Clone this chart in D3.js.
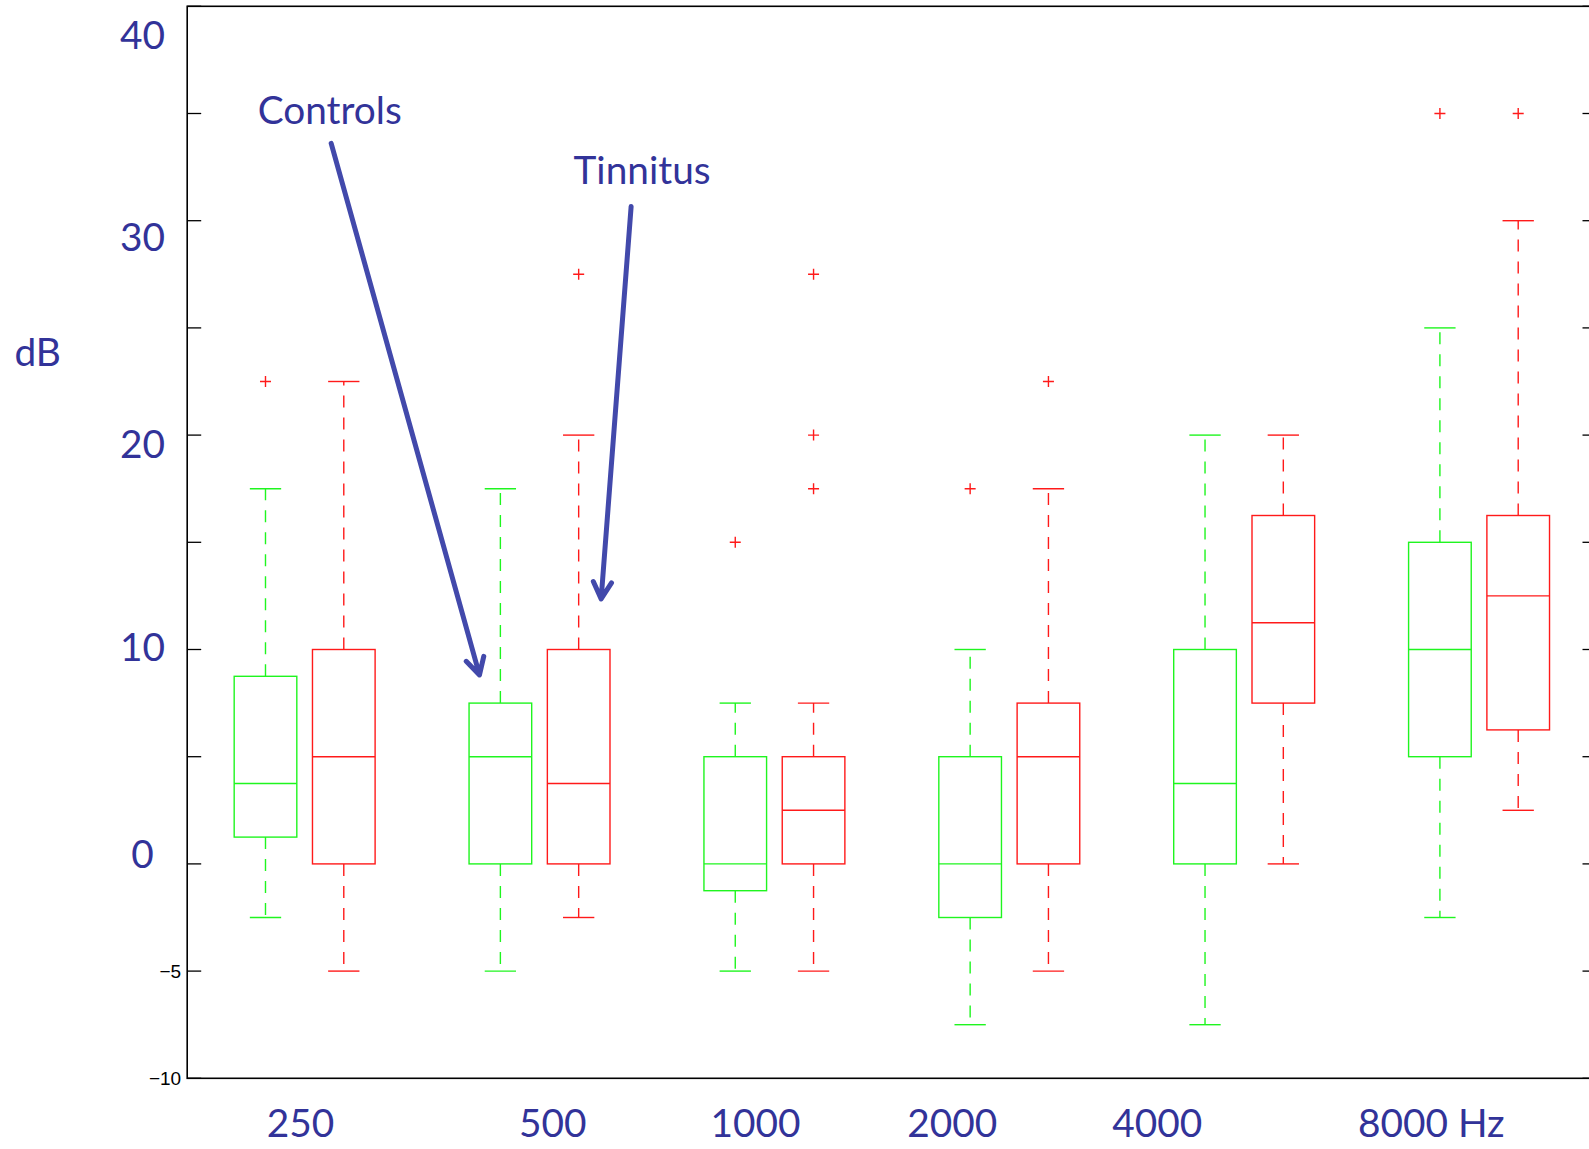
<!DOCTYPE html>
<html>
<head>
<meta charset="utf-8">
<script src="https://cdn.jsdelivr.net/npm/d3@7"></script>
<style>
body { margin: 0; background: #fff; }
.blue { fill: #323399; font-family: Lato, "Open Sans", sans-serif; font-size: 38.8px; }
.small { fill: #000; font-family: "Liberation Sans", Arial, sans-serif; font-size: 19px; }
</style>
</head>
<body>
<svg id="chart" width="1589" height="1149"></svg>
<script>
var width = 1589;
var height = 1149;

var freqs = ["250", "500", "1000", "2000", "4000", "8000 Hz"];

// per frequency: lower whisker, q1, median, q3, upper whisker (dB)
var controlsBox = [
    [-2.5, 1.25, 3.75, 8.75, 17.5],
    [-5, 0, 5, 7.5, 17.5],
    [-5, -1.25, 0, 5, 7.5],
    [-7.5, -2.5, 0, 5, 10],
    [-7.5, 0, 3.75, 10, 20],
    [-2.5, 5, 10, 15, 25]
];
var tinnitusBox = [
    [-5, 0, 5, 10, 22.5],
    [-2.5, 0, 3.75, 10, 20],
    [-5, 0, 2.5, 5, 7.5],
    [-5, 0, 5, 7.5, 17.5],
    [0, 7.5, 11.25, 16.25, 20],
    [2.5, 6.25, 12.5, 16.25, 30]
];
var controlsOutliers = [[22.5], [], [15], [17.5], [], [35]];
var tinnitusOutliers = [[], [27.5], [27.5, 20, 17.5], [22.5], [], [35]];

var yTicks = [-10, -5, 0, 5, 10, 15, 20, 25, 30, 35, 40];
var smallTickLabels = [-10, -5];
var bigTickLabels = [40, 30, 20, 10, 0];

// hand placed text, in axis units (like text(x, y, ...) calls)
var bigLabelX = -0.57;
var bigLabelY = [38.7, 29.3, 19.65, 10.15, 0.5];
var freqLabelX = [1.447, 4.67, 7.26, 9.77, 12.39, 15.89];
var freqLabelY = -12.05;
var notes = [
    {text: "Controls", x: 1.82, y: 35.2},
    {text: "Tinnitus", x: 5.81, y: 32.4},
    {text: "dB", x: -1.91, y: 23.9}
];
var arrows = [
    [[1.839, 33.61], [3.733, 8.815]],
    [[5.67, 30.66], [5.287, 12.36]]
];

var x = d3.scaleLinear().domain([0, 18]).range([187.2, 1596.5]);
var y = d3.scaleLinear().domain([-10, 40]).range([1078.3, 6.3]);

var svg = d3.select("#chart");

// boxes
var groups = [];
freqs.forEach(function(f, i) {
    groups.push({pos: 3 * i + 1, s: controlsBox[i], out: controlsOutliers[i], color: "#1ff51f"});
    groups.push({pos: 3 * i + 2, s: tinnitusBox[i], out: tinnitusOutliers[i], color: "#ff1a1a"});
});

var boxW = 0.4;
var capW = 0.2;

var g = svg.append("g").selectAll("g")
    .data(groups)
    .enter()
    .append("g")
    .style("stroke", function(d) { return d.color; })
    .style("stroke-width", 1.4)
    .style("fill", "none");

// whiskers
g.append("line")
    .attr("x1", function(d) { return x(d.pos); })
    .attr("x2", function(d) { return x(d.pos); })
    .attr("y1", function(d) { return y(d.s[3]); })
    .attr("y2", function(d) { return y(d.s[4]); })
    .style("stroke-dasharray", "12,10");
g.append("line")
    .attr("x1", function(d) { return x(d.pos); })
    .attr("x2", function(d) { return x(d.pos); })
    .attr("y1", function(d) { return y(d.s[1]); })
    .attr("y2", function(d) { return y(d.s[0]); })
    .style("stroke-dasharray", "12,10");

// caps
[0, 4].forEach(function(k) {
    g.append("line")
        .attr("x1", function(d) { return x(d.pos - capW); })
        .attr("x2", function(d) { return x(d.pos + capW); })
        .attr("y1", function(d) { return y(d.s[k]); })
        .attr("y2", function(d) { return y(d.s[k]); });
});

g.append("rect")
    .attr("x", function(d) { return x(d.pos - boxW); })
    .attr("width", function(d) { return x(d.pos + boxW) - x(d.pos - boxW); })
    .attr("y", function(d) { return y(d.s[3]); })
    .attr("height", function(d) { return y(d.s[1]) - y(d.s[3]); });

g.append("line")
    .attr("x1", function(d) { return x(d.pos - boxW); })
    .attr("x2", function(d) { return x(d.pos + boxW); })
    .attr("y1", function(d) { return y(d.s[2]); })
    .attr("y2", function(d) { return y(d.s[2]); });

// outliers, red + for every group
g.selectAll("path.out")
    .data(function(d) { return d.out.map(function(v) { return {pos: d.pos, v: v}; }); })
    .enter()
    .append("path")
    .attr("class", "out")
    .attr("d", function(d) {
        var cx = x(d.pos), cy = y(d.v);
        return "M" + (cx - 5.5) + "," + cy + "H" + (cx + 5.5) + "M" + cx + "," + (cy - 5.5) + "V" + (cy + 5.5);
    })
    .style("stroke", "#ff1a1a");

// axes box
var ax = svg.append("g").style("stroke", "#000").style("fill", "none");
ax.append("rect")
    .attr("x", x(0))
    .attr("y", y(40))
    .attr("width", x(18) - x(0))
    .attr("height", y(-10) - y(40))
    .style("stroke-width", 1.6);

ax.selectAll("line.tl")
    .data(yTicks)
    .enter()
    .append("line")
    .attr("x1", x(0))
    .attr("x2", x(0) + 14)
    .attr("y1", function(d) { return y(d); })
    .attr("y2", function(d) { return y(d); })
    .style("stroke-width", 1.3);
ax.selectAll("line.tr")
    .data(yTicks)
    .enter()
    .append("line")
    .attr("x1", x(18))
    .attr("x2", x(18) - 14)
    .attr("y1", function(d) { return y(d); })
    .attr("y2", function(d) { return y(d); })
    .style("stroke-width", 1.3);

svg.selectAll("text.small")
    .data(smallTickLabels)
    .enter()
    .append("text")
    .attr("class", "small")
    .attr("x", x(0) - 6)
    .attr("y", function(d) { return y(d); })
    .attr("text-anchor", "end")
    .attr("dominant-baseline", "central")
    .text(function(d) { return "\u2212" + Math.abs(d); });

svg.selectAll("text.big")
    .data(bigTickLabels)
    .enter()
    .append("text")
    .attr("class", "blue")
    .attr("x", x(bigLabelX))
    .attr("y", function(d, i) { return y(bigLabelY[i]); })
    .attr("text-anchor", "middle")
    .attr("dominant-baseline", "central")
    .text(function(d) { return d; });

svg.selectAll("text.freq")
    .data(freqs)
    .enter()
    .append("text")
    .attr("class", "blue")
    .attr("x", function(d, i) { return x(freqLabelX[i]); })
    .attr("y", y(freqLabelY))
    .attr("text-anchor", "middle")
    .attr("dominant-baseline", "central")
    .text(function(d) { return d; });

svg.selectAll("text.note")
    .data(notes)
    .enter()
    .append("text")
    .attr("class", "blue")
    .attr("x", function(d) { return x(d.x); })
    .attr("y", function(d) { return y(d.y); })
    .attr("text-anchor", "middle")
    .attr("dominant-baseline", "central")
    .text(function(d) { return d.text; });

// arrows with open chevron heads
var line = d3.line()
    .x(function(p) { return p[0]; })
    .y(function(p) { return p[1]; });

svg.selectAll("path.arrow")
    .data(arrows)
    .enter()
    .append("path")
    .attr("d", function(d) {
        var x0 = x(d[0][0]), y0 = y(d[0][1]);
        var x1 = x(d[1][0]), y1 = y(d[1][1]);
        var a = Math.atan2(y0 - y1, x0 - x1);
        var len = 19, sp = 0.5;
        var left = [x1 + len * Math.cos(a - sp), y1 + len * Math.sin(a - sp)];
        var right = [x1 + len * Math.cos(a + sp), y1 + len * Math.sin(a + sp)];
        return line([[x0, y0], [x1, y1]]) + line([left, [x1, y1], right]);
    })
    .style("fill", "none")
    .style("stroke", "#4249ab")
    .style("stroke-width", 5)
    .style("stroke-linecap", "round")
    .style("stroke-linejoin", "round");
</script>
</body>
</html>
